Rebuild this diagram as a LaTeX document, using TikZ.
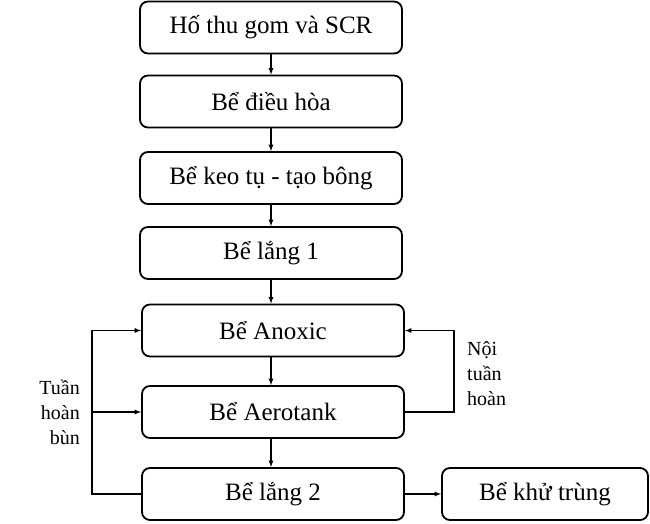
\documentclass[tikz,border=0pt]{standalone}
\usepackage{fontspec}
\setmainfont{Liberation Serif}
\begin{document}
\begin{tikzpicture}[x=1pt,y=-1pt,>=latex,
    tank/.style={draw,rounded corners=8pt,line width=1.8pt,minimum width=262pt,minimum height=52pt,inner sep=0pt,font=\fontsize{25}{30}\selectfont},
    flow/.style={->,line width=1.2pt},
    side/.style={font=\fontsize{20}{25}\selectfont,inner sep=0pt}]
    \useasboundingbox (0,0) rectangle (650,523);
    % main column
    \node[tank] (hothu) at (271,27.5) {Hố thu gom và SCR};
    \node[tank] (dieuhoa) at (271,101.5) {Bể điều hòa};
    \node[tank] (keotu) at (271,178) {Bể keo tụ - tạo bông};
    \node[tank] (lang1) at (271,253) {Bể lắng 1};
    \node[tank] (anoxic) at (273,330.5) {Bể Anoxic};
    \node[tank] (aerotank) at (273,412) {Bể Aerotank};
    \node[tank] (lang2) at (273,494) {Bể lắng 2};
    \node[tank,minimum width=206pt] (khutrung) at (545,494) {Bể khử trùng};
    \draw[flow] (hothu) -- (dieuhoa);
    \draw[flow] (dieuhoa) -- (keotu);
    \draw[flow] (keotu) -- (lang1);
    \draw[flow] (lang1.south) -- (lang1.south |- anoxic.north);
    \draw[flow] (anoxic.south -| lang1.south) -- (aerotank.north -| lang1.south);
    \draw[flow] (aerotank.south -| lang1.south) -- (lang2.north -| lang1.south);
    \draw[flow] (lang2) -- (khutrung);
    % loops
    \coordinate (bunL) at (92,0);
    \coordinate (noiR) at (454,0);
    \draw[flow] (lang2.west) -- (lang2.west -| bunL) |- (anoxic.west);
    \draw[flow] (aerotank.west -| bunL) -- (aerotank.west);
    \draw[flow] (aerotank.east) -- (aerotank.east -| noiR) |- (anoxic.east);
    \node[side,align=right,anchor=east] (bun) at (80,412) {Tuần\\hoàn\\bùn};
    \node[side,align=left,anchor=west] (noi) at (467,374) {Nội\\tuần\\hoàn};
\end{tikzpicture}
\end{document}
